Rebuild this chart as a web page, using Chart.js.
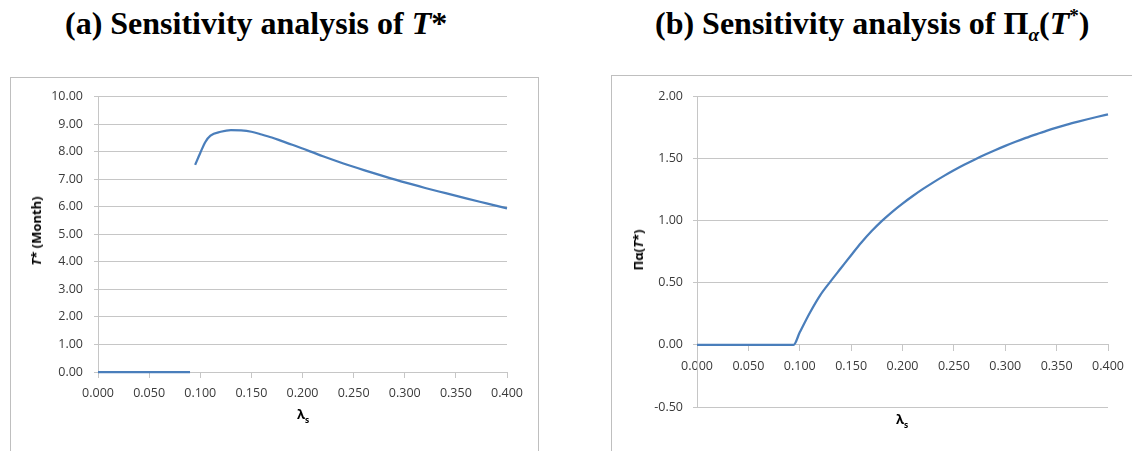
<!DOCTYPE html>
<html>
<head>
<meta charset="utf-8">
<script src="https://cdn.jsdelivr.net/npm/chart.js@4"></script>
<style>
  body { margin: 0; width: 1132px; height: 451px; background: #fff; position: relative; overflow: hidden; }
  .title { position: absolute; font-family: "Liberation Serif", serif; font-weight: bold; font-size: 32px; color: #000; white-space: nowrap; }
  .box { position: absolute; border: 1px solid #bfbfbf; border-bottom: none; box-sizing: border-box; }
  .box canvas { position: absolute; left: 0; top: 0; }
  .ytitle { position: absolute; font-family: "Open Sans", sans-serif; font-weight: bold; font-size: 13px; color: #000;
            white-space: nowrap; transform: translate(-50%, -50%) rotate(-90deg); }
  .xtitle { position: absolute; font-family: "Open Sans", sans-serif; font-weight: bold; font-size: 13px; color: #000;
            white-space: nowrap; transform: translate(-50%, -50%); }
  sub { font-size: 65%; }
</style>
</head>
<body>
<div class="title" style="left:65px; top:5px;">(a) Sensitivity analysis of <i>T</i>*</div>
<div class="title" style="left:655px; top:5px;">(b) Sensitivity analysis of Π<sub style="font-size:60%"><i>α</i></sub>(<i>T</i><sup style="font-size:60%">*</sup>)</div>

<div class="box" style="left:10px; top:77px; width:529px; height:374px;">
  <canvas id="chartA" width="527" height="373"></canvas>
</div>
<div class="box" style="left:611px; top:75px; width:530px; height:376px;">
  <canvas id="chartB" width="520" height="375"></canvas>
</div>

<div class="ytitle" style="left:36px; top:231px;"><i>T</i>* (Month)</div>
<div class="xtitle" style="left:303px; top:415px;">λ<sub>s</sub></div>
<div class="ytitle" style="left:638px; top:250px;">Πα(<i>T</i>*)</div>
<div class="xtitle" style="left:902px; top:420px;">λ<sub>s</sub></div>

<script>
// data
const lambdaZero = [0, 0.01, 0.02, 0.03, 0.04, 0.05, 0.06, 0.07, 0.08, 0.09];
const tZero = [0, 0, 0, 0, 0, 0, 0, 0, 0, 0];
const lambdaT = [0.095, 0.10, 0.105, 0.11, 0.12, 0.13, 0.14, 0.15, 0.16, 0.17, 0.18, 0.19, 0.20,
                 0.22, 0.24, 0.26, 0.28, 0.30, 0.32, 0.34, 0.36, 0.38, 0.40];
const tStar = [7.52, 7.95, 8.35, 8.58, 8.72, 8.78, 8.77, 8.72, 8.62, 8.51, 8.38, 8.25, 8.11,
               7.83, 7.57, 7.33, 7.10, 6.88, 6.68, 6.49, 6.30, 6.12, 5.94];
const lambdaPi = [0, 0.01, 0.02, 0.03, 0.04, 0.05, 0.06, 0.07, 0.08, 0.09, 0.094,
                  0.10, 0.11, 0.12, 0.13, 0.14, 0.15, 0.16, 0.17, 0.18, 0.19, 0.20,
                  0.21, 0.22, 0.23, 0.24, 0.25, 0.26, 0.27, 0.28, 0.29, 0.30,
                  0.31, 0.32, 0.33, 0.34, 0.35, 0.36, 0.37, 0.38, 0.39, 0.40];
const piValues = [0, 0, 0, 0, 0, 0, 0, 0, 0, 0, 0,
                  0.10, 0.26, 0.40, 0.51, 0.615, 0.72, 0.822, 0.914, 0.996, 1.069, 1.135,
                  1.196, 1.253, 1.306, 1.356, 1.403, 1.447, 1.488, 1.527, 1.564, 1.599,
                  1.632, 1.663, 1.692, 1.720, 1.746, 1.770, 1.792, 1.813, 1.833, 1.852];
const xTicks = [0, 0.05, 0.10, 0.15, 0.20, 0.25, 0.30, 0.35, 0.40];

const lineColor = '#4a7ebb';
const gridColor = '#c6c6c6';
const tickFont = { family: 'Open Sans', size: 12.5 };
const tickColor = '#3a3a3a';

function pts(xs, ys) {
    return xs.map((x, i) => ({ x: x, y: ys[i] }));
}

function lineSet(data) {
    return {
        data: data,
        borderColor: lineColor,
        borderWidth: 2.25,
        pointRadius: 0,
        fill: false,
        clip: 4,
        cubicInterpolationMode: 'monotone'
    };
}

function xScale(extra) {
    return Object.assign({
        type: 'linear',
        min: 0,
        max: 0.4,
        afterBuildTicks: (s) => { s.ticks = xTicks.map(v => ({ value: v })); },
        ticks: { font: tickFont, color: tickColor, padding: 8, maxRotation: 0,
                 callback: (v) => v.toFixed(3) },
        grid: { drawOnChartArea: false, drawTicks: true, tickLength: 6, color: gridColor },
        border: { display: true, color: gridColor, z: -1 }
    }, extra);
}

function yScale(min, max, step, width, pad) {
    return {
        min: min,
        max: max,
        afterFit: (s) => { s.width = width; },
        ticks: { stepSize: step, font: tickFont, color: tickColor, padding: pad,
                 callback: (v) => v.toFixed(2) },
        grid: { color: gridColor, tickLength: 4 },
        border: { display: true, color: gridColor }
    };
}

const baseOptions = {
    responsive: false,
    animation: false,
    plugins: { legend: { display: false }, tooltip: { enabled: false } }
};

// (a) T*
new Chart(document.getElementById('chartA'), {
    type: 'line',
    data: { datasets: [lineSet(pts(lambdaZero, tZero)), lineSet(pts(lambdaT, tStar))] },
    options: Object.assign({}, baseOptions, {
        layout: { padding: { top: 17, right: 31, left: 0, bottom: 0 } },
        scales: {
            x: xScale({ afterFit: (s) => { s.height = 79; } }),
            y: yScale(0, 10, 1, 87, 11)
        }
    })
});

// (b) Pi_alpha(T*)
new Chart(document.getElementById('chartB'), {
    type: 'line',
    data: { datasets: [lineSet(pts(lambdaPi, piValues))] },
    options: Object.assign({}, baseOptions, {
        layout: { padding: { top: 20, right: 24, left: 0, bottom: 44 } },
        scales: {
            x: xScale({ position: { y: 0 } }),
            y: yScale(-0.5, 2, 0.5, 85, 10)
        }
    })
});
</script>
</body>
</html>
